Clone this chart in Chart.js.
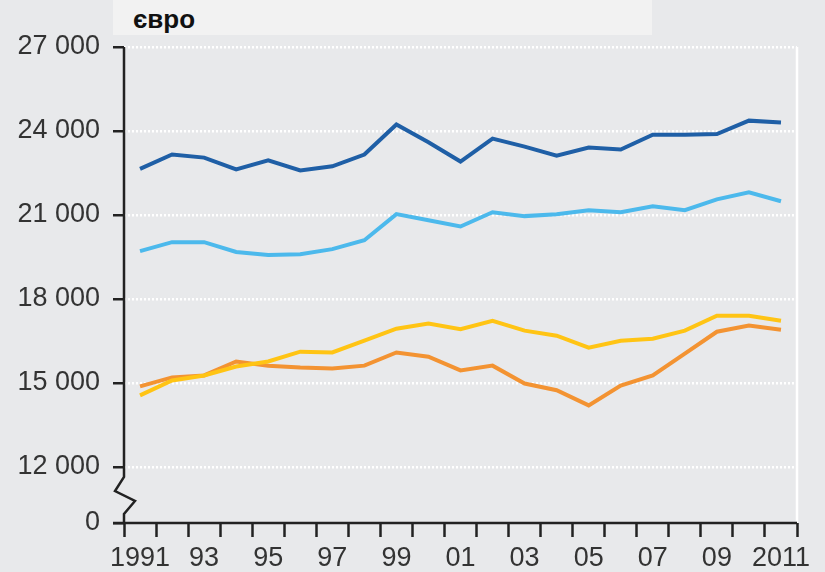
<!DOCTYPE html>
<html>
<head>
<meta charset="utf-8">
<script src="https://cdn.jsdelivr.net/npm/chart.js@4"></script>
<style>
  html, body { margin: 0; padding: 0; background: #e8e9eb; }
  #wrap { position: relative; width: 825px; height: 572px; }
  #unit {
    position: absolute; left: 113px; top: 0; width: 539px; height: 35px;
    background: #f2f2f2; font: bold 26px 'Liberation Sans', Arial, sans-serif;
    color: #111; box-sizing: border-box; padding: 4px 0 0 20px; line-height: 30px;
  }
  canvas { position: absolute; left: 0; top: 0; }
</style>
</head>
<body>
<div id="wrap">
  <canvas id="myChart" width="825" height="572"></canvas>
  <div id="unit">євро</div>
</div>
<script>
var years = ['1991','1992','1993','1994','1995','1996','1997','1998','1999','2000',
             '2001','2002','2003','2004','2005','2006','2007','2008','2009','2010','2011'];
var yearLabels = ['1991','','93','','95','','97','','99','','01','','03','','05','','07','','09','','2011'];

var darkBlue  = [22650, 23160, 23050, 22630, 22950, 22590, 22740, 23160, 24230, 23600,
                 22910, 23730, 23440, 23120, 23410, 23340, 23870, 23870, 23890, 24370, 24300];
var lightBlue = [19710, 20030, 20030, 19680, 19570, 19600, 19780, 20100, 21030, 20810,
                 20590, 21100, 20960, 21030, 21170, 21100, 21310, 21170, 21560, 21810, 21490];
var yellow    = [14560, 15090, 15270, 15590, 15770, 16120, 16090, 16510, 16940, 17120,
                 16920, 17220, 16870, 16690, 16260, 16510, 16580, 16870, 17400, 17400, 17220];
var orange    = [14880, 15200, 15270, 15770, 15620, 15550, 15520, 15620, 16090, 15940,
                 15450, 15620, 14980, 14740, 14200, 14910, 15270, 16050, 16830, 17050, 16900];

var yTicks = [10000, 12000, 15000, 18000, 21000, 24000, 27000];
var yBreakValue = 10000; // shown as "0" below the axis break

var axisColor = '#222';
var font = { family: "'Liberation Sans', Arial, sans-serif", size: 27 };

function fmt(v) {
    if (v === yBreakValue) return '0';
    return String(v).replace(/\B(?=(\d{3})+(?!\d))/g, ' ');
}

// y axis line with the zigzag break, plus the white right edge
var axisPlugin = {
    id: 'axisPlugin',
    afterDraw: function(chart) {
        var ctx = chart.ctx, a = chart.chartArea;
        var y = chart.scales.y;
        var x0 = a.left;
        var yBottom = y.getPixelForValue(yBreakValue);
        var yBreak = y.getPixelForValue(12000) + 10;
        ctx.save();
        ctx.strokeStyle = '#fff';
        ctx.lineWidth = 2.5;
        ctx.beginPath();
        ctx.moveTo(a.right, a.top);
        ctx.lineTo(a.right, a.bottom);
        ctx.stroke();

        ctx.strokeStyle = axisColor;
        ctx.lineWidth = 2.5;
        ctx.beginPath();
        ctx.moveTo(x0, a.top);
        ctx.lineTo(x0, yBreak);
        ctx.lineTo(x0 - 9, yBreak + 14);
        ctx.lineTo(x0 + 11, yBreak + 24);
        ctx.lineTo(x0, yBreak + 37);
        ctx.lineTo(x0, yBottom);
        ctx.stroke();

        ctx.beginPath();
        ctx.moveTo(x0 - 11, a.bottom);
        ctx.lineTo(a.right, a.bottom);
        ctx.stroke();
        ctx.restore();
    }
};

function line(data, color) {
    return {
        data: data,
        borderColor: color,
        backgroundColor: color,
        borderWidth: 4,
        pointRadius: 0,
        tension: 0,
        fill: false
    };
}

var ctx = document.getElementById('myChart').getContext('2d');

var myChart = new Chart(ctx, {
    type: 'line',
    data: {
        labels: years,
        datasets: [
            line(darkBlue, '#1f5fa6'),
            line(lightBlue, '#4cb9ec'),
            line(yellow, '#ffc414'),
            line(orange, '#f39332')
        ]
    },
    plugins: [axisPlugin],
    options: {
        responsive: false,
        animation: false,
        layout: { padding: { left: 0, right: 28, top: 47, bottom: 0 } },
        plugins: {
            legend: { display: false },
            tooltip: { enabled: false }
        },
        scales: {
            x: {
                type: 'category',
                offset: true,
                afterFit: function(s) { s.height = 49; },
                border: { display: false },
                grid: {
                    offset: true,
                    drawOnChartArea: false,
                    tickLength: 14,
                    tickColor: axisColor,
                    tickWidth: 2.5
                },
                ticks: {
                    autoSkip: false,
                    maxRotation: 0,
                    padding: 5,
                    color: '#333',
                    font: font,
                    callback: function(v, i) { return yearLabels[i]; }
                }
            },
            y: {
                min: 10000,
                max: 27000,
                afterFit: function(s) { s.width = 124; },
                afterBuildTicks: function(s) {
                    s.ticks = yTicks.map(function(v) { return { value: v }; });
                },
                border: { display: false, dash: [2, 2] },
                grid: {
                    color: function(c) {
                        return (c.tick && c.tick.value === yBreakValue) ? 'rgba(0,0,0,0)' : '#ffffff';
                    },
                    lineWidth: 2.5,
                    tickLength: 11,
                    tickColor: axisColor,
                    tickWidth: 2.5,
                    tickBorderDash: [0, 0]
                },
                ticks: {
                    padding: 13,
                    color: '#333',
                    font: font,
                    callback: function(v) { return fmt(v); }
                }
            }
        }
    }
});
</script>
</body>
</html>
